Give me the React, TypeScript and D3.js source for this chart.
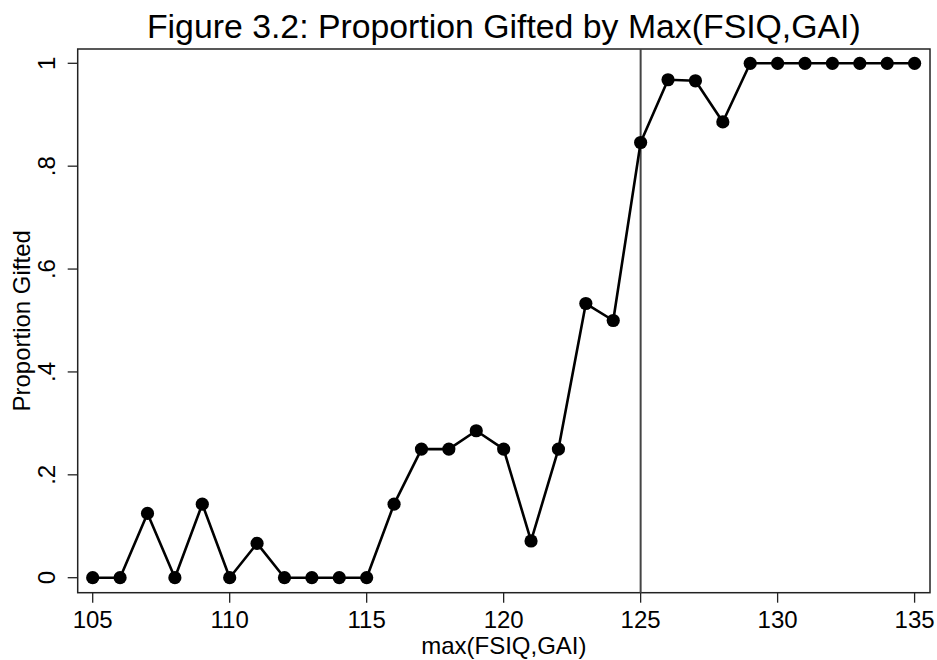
import React from "react";
import * as d3 from "d3";

const xValues = [105, 106, 107, 108, 109, 110, 111, 112, 113, 114, 115, 116, 117, 118, 119, 120, 121, 122, 123, 124, 125, 126, 127, 128, 129, 130, 131, 132, 133, 134, 135];
const proportions = [0, 0, 0.125, 0, 0.143, 0, 0.0667, 0, 0, 0, 0, 0.143, 0.25, 0.25, 0.2857, 0.25, 0.0714, 0.25, 0.533, 0.5, 0.846, 0.968, 0.966, 0.886, 1, 1, 1, 1, 1, 1, 1];
const xTicks = [105, 110, 115, 120, 125, 130, 135];
const yTicks = [0, 0.2, 0.4, 0.6, 0.8, 1];
const yTickLabels = ["0", ".2", ".4", ".6", ".8", "1"];
const cutoff = 125;
const title = "Figure 3.2: Proportion Gifted by Max(FSIQ,GAI)";
const xTitle = "max(FSIQ,GAI)";
const yTitle = "Proportion Gifted";

export default function App() {
  const W = 937, H = 660;
  const frame = { left: 77.7, right: 930, top: 49, bottom: 592.7 };
  const x = d3.scaleLinear().domain([105, 135]).range([92.7, 914.6]);
  const y = d3.scaleLinear().domain([0, 1]).range([577.7, 63.3]);
  const data = xValues.map((v, i) => ({ x: v, y: proportions[i] }));
  const line = d3.line<{ x: number; y: number }>().x(d => x(d.x)).y(d => y(d.y));
  const font = "'Liberation Sans', Arial, Helvetica, sans-serif";
  const axisColor = "#222";
  return (
    <svg width={W} height={H} style={{ position: "absolute", left: 0, top: 0, background: "#fff" }} fontFamily={font}>
      <rect x={0} y={0} width={W} height={H} fill="#fff" />
      <text x={(frame.left + frame.right) / 2} y={38} textAnchor="middle" fontSize={33.8} fill="#000">{title}</text>
      <rect x={frame.left} y={frame.top} width={frame.right - frame.left} height={frame.bottom - frame.top} fill="none" stroke={axisColor} strokeWidth={1.5} />
      {xTicks.map(t => (
        <g key={"xt" + t}>
          <line x1={x(t)} x2={x(t)} y1={frame.bottom} y2={frame.bottom + 10} stroke={axisColor} strokeWidth={1.3} />
          <text x={x(t)} y={627.5} textAnchor="middle" fontSize={24} fill="#000">{t}</text>
        </g>
      ))}
      {yTicks.map((t, i) => (
        <g key={"yt" + t}>
          <line x1={frame.left - 10} x2={frame.left} y1={y(t)} y2={y(t)} stroke={axisColor} strokeWidth={1.3} />
          <text transform={`translate(55,${y(t)}) rotate(-90)`} textAnchor="middle" fontSize={24} fill="#000">{yTickLabels[i]}</text>
        </g>
      ))}
      <text x={(frame.left + frame.right) / 2} y={654} textAnchor="middle" fontSize={24} fill="#000">{xTitle}</text>
      <text transform={`translate(30,${(frame.top + frame.bottom) / 2}) rotate(-90)`} textAnchor="middle" fontSize={24} fill="#000">{yTitle}</text>
      <line x1={x(cutoff)} x2={x(cutoff)} y1={frame.top} y2={frame.bottom} stroke="#444" strokeWidth={2} />
      <path d={line(data) || ""} fill="none" stroke="#000" strokeWidth={2.6} strokeLinejoin="round" />
      {data.map(d => (
        <circle key={d.x} cx={x(d.x)} cy={y(d.y)} r={6.6} fill="#000" />
      ))}
    </svg>
  );
}
